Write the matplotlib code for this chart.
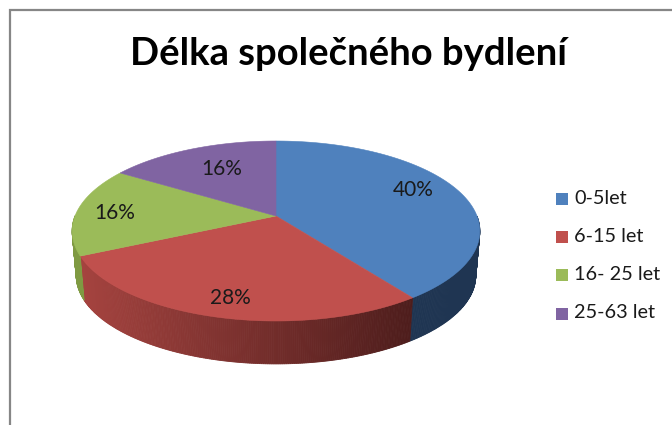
# 3D looking pie, drawn by hand because matplotlib pie is flat
import matplotlib
matplotlib.use("Agg")
import matplotlib.pyplot as plt
from matplotlib.patches import Polygon, Rectangle
import numpy as np

title = "Délka společného bydlení"
categories = ["0-5let", "6-15 let", "16- 25 let", "25-63 let"]
values = [40, 28, 16, 16]
labels = ["40%", "28%", "16%", "16%"]

colors = ["#4F81BD", "#C0504D", "#9BBB59", "#8064A2"]
wall_left = ["#1F3552", "#A5433F", "#7F9A42", "#5F4A7A"]
wall_right = ["#1F3552", "#4E1D1C", "#7F9A42", "#5F4A7A"]
label_pos = [(413, 190), (230, 298), (115, 213), (222, 169)]
legend_y = [198, 236, 274, 313]

plt.rcParams['font.family'] = ['Lato', 'DejaVu Sans']

fig = plt.figure(figsize=(6.72, 4.25), dpi=100)
ax = fig.add_axes([0, 0, 1, 1])
ax.set_xlim(0, 672)
ax.set_ylim(425, 0)
ax.axis("off")

cx, cy = 276, 216
rx, ry = 201, 87.5
k = 1 / 6  # perspective
depth = 45
shrink = 0.98


def project(angle):
    # angle in degrees, clockwise from the top
    u = np.sin(np.radians(angle))
    v = np.cos(np.radians(angle))
    w = 1 + k * v
    return rx * u / w, -ry * v / w


# frame, open at right and bottom
ax.plot([9.5, 9.5, 672], [425, 10, 10], color="#868686", lw=1.6, solid_joinstyle="miter")

edges = np.cumsum([0] + values) / sum(values) * 360

# side walls
for i in range(len(values)):
    steps = np.arange(edges[i], edges[i + 1], 0.5)
    for a in steps:
        b = min(a + 0.5, edges[i + 1])
        x0, y0 = project(a)
        x1, y1 = project(b)
        if y0 < 0 and y1 < 0:
            continue
        pts = [(cx + x0, cy + y0), (cx + x1, cy + y1),
               (cx + x1 * shrink, cy + depth + y1 * shrink),
               (cx + x0 * shrink, cy + depth + y0 * shrink)]
        t = (cx + x0 - 80) / (412 - 80)
        t = min(max(t, 0), 1)
        c0 = np.array(matplotlib.colors.to_rgb(wall_left[i]))
        c1 = np.array(matplotlib.colors.to_rgb(wall_right[i]))
        col = c0 + (c1 - c0) * t
        ax.add_patch(Polygon(pts, closed=True, facecolor=col, edgecolor=col, lw=0.6))

# top faces
for i in range(len(values)):
    ang = np.linspace(edges[i], edges[i + 1], 120)
    pts = [(cx, cy)] + [(cx + project(a)[0], cy + project(a)[1]) for a in ang]
    ax.add_patch(Polygon(pts, closed=True, facecolor=colors[i], edgecolor=colors[i], lw=0.4))

for i in range(len(values)):
    ax.text(label_pos[i][0], label_pos[i][1], labels[i], ha="center", va="center",
            fontsize=15, color="#1a1a1a")

ax.text(348, 54, title, ha="center", va="center", fontsize=27.5, fontweight="bold", color="black")

for i in range(len(categories)):
    ax.add_patch(Rectangle((555.5, legend_y[i] - 5.5), 12, 12, facecolor=colors[i], edgecolor="none"))
    ax.text(574, legend_y[i], categories[i], ha="left", va="center", fontsize=14.3, color="#1a1a1a")

fig.savefig("out.png", dpi=100)
